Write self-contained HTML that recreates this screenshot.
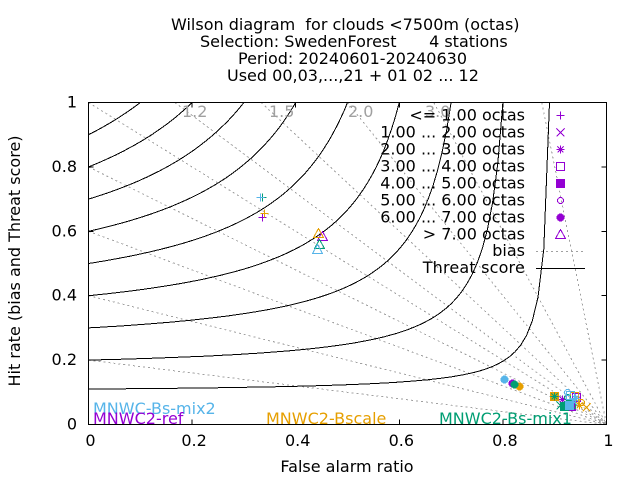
<!DOCTYPE html>
<html lang="en">
<head>
<meta charset="utf-8">
<title>Wilson diagram</title>
<style>
html,body{margin:0;padding:0;background:#fff;}
svg{display:block;}
text{font-family:"DejaVu Sans","Liberation Sans",sans-serif;font-size:16px;fill:#000;white-space:pre;}
</style>
</head>
<body>
<svg id="chart" xmlns="http://www.w3.org/2000/svg" width="640" height="480" viewBox="0 0 640 480" xml:space="preserve">
<rect x="0" y="0" width="640" height="480" fill="#fff"/>
<g id="grid"></g>
<g id="axes"></g>
<g id="points"></g>
<g>
<text x="171" y="30">Wilson diagram  for clouds &lt;7500m (octas)</text>
<text x="200" y="47">Selection: SwedenForest      <tspan dx="2">4 stations</tspan></text>
<text x="238" y="64">Period: 20240601-20240630</text>
<text x="227" y="81">Used 00,03,...,21 + 01 02 ... 12</text>
</g>
<text x="347" y="472" text-anchor="middle">False alarm ratio</text>
<text transform="translate(20,261) rotate(-90)" text-anchor="middle">Hit rate (bias and Threat score)</text>
<g style="fill:#a0a0a0">
<text x="182" y="117" style="fill:#a0a0a0">1.2</text>
<text x="269" y="117" style="fill:#a0a0a0">1.5</text>
<text x="348" y="117" style="fill:#a0a0a0">2.0</text>
<text x="425" y="117" style="fill:#a0a0a0">3.0</text>
</g>
<g>
<text x="93" y="414" style="fill:#56b4e9">MNWC-Bs-mix2</text>
<text x="93" y="424" style="fill:#9400d3">MNWC2-ref</text>
<text x="266" y="424" style="fill:#e69f00">MNWC2-Bscale</text>
<text x="439" y="424" style="fill:#009e73">MNWC2-Bs-mix1</text>
</g>
<g id="legend"></g>
</svg>
<script>
const categories = ["<= 1.00 octas","1.00 ... 2.00 octas","2.00 ... 3.00 octas","3.00 ... 4.00 octas","4.00 ... 5.00 octas","5.00 ... 6.00 octas","6.00 ... 7.00 octas","> 7.00 octas"];
const tickValues = [0,0.2,0.4,0.6,0.8,1];
const tickLabels = ["0","0.2","0.4","0.6","0.8","1"];
const biasValues = [0.2,0.4,0.6,0.8,1,1.2,1.5,2,3,8];
const threatValues = [0.11,0.2,0.3,0.4,0.5,0.6,0.7,0.8,0.9];
const refFar = [0.335,0.921,0.914,0.942,0.932,0.944,0.817,0.451];
const refHit = [0.644,0.068,0.078,0.084,0.056,0.093,0.129,0.584];
const bscaleFar = [0.339,0.960,0.946,0.938,0.898,0.950,0.831,0.443];
const bscaleHit = [0.656,0.053,0.062,0.087,0.090,0.071,0.120,0.594];
const mix1Far = [0.334,0.911,0.898,0.932,0.917,0.923,0.821,0.445];
const mix1Hit = [0.708,0.062,0.090,0.065,0.059,0.084,0.126,0.561];
const mix2Far = [0.331,0.936,0.940,0.930,0.927,0.923,0.802,0.441];
const mix2Hit = [0.706,0.074,0.081,0.093,0.062,0.102,0.142,0.546];

const NS = "http://www.w3.org/2000/svg";
const L = 88.5, R = 606.5, T = 102.5, B = 424.5;
const sx = v => L + v * (R - L);
const sy = v => B - v * (B - T);
const gridG = document.getElementById("grid");
const axesG = document.getElementById("axes");
const pointsG = document.getElementById("points");
const legendG = document.getElementById("legend");

function mk(tag, attrs, parent) {
  const el = document.createElementNS(NS, tag);
  for (const k in attrs) el.setAttribute(k, attrs[k]);
  parent.appendChild(el);
  return el;
}

// bias isolines: H = bias * (1 - F)
biasValues.forEach(b => {
  const f0 = b > 1 ? 1 - 1 / b : 0;
  const h0 = b > 1 ? 1 : b;
  const el = mk("line", {x1: sx(f0), y1: sy(h0), x2: sx(1), y2: sy(0), stroke: "#a0a0a0", "stroke-width": 1, "stroke-dasharray": "2 3", "shape-rendering": "crispEdges"}, gridG);
  
  
});

// threat score isolines: 1/TS = 1/H + 1/(1-F) - 1
threatValues.forEach(ts => {
  const pts = [];
  const fMax = 1 - ts;
  for (let i = 0; i <= 80; i++) {
    const f = fMax * i / 80;
    const inv = 1 / ts + 1 - 1 / (1 - f);
    const h = i === 80 ? 1 : Math.min(1, 1 / inv);
    pts.push(sx(f).toFixed(1) + "," + sy(h).toFixed(1));
  }
  const el = mk("polyline", {points: pts.join(" "), fill: "none", stroke: "#000", "stroke-width": 1, "shape-rendering": "crispEdges"}, gridG);
  
  
});

// axes
const frame = mk("rect", {x: L, y: T, width: R - L, height: B - T, fill: "none", stroke: "#000", "stroke-width": 1, "shape-rendering": "crispEdges"}, axesG);


tickValues.forEach((v, i) => {
  const t1 = mk("path", {d: `M${sx(v)} ${B}v-5M${sx(v)} ${T}v5M${L} ${sy(v)}h5M${R} ${sy(v)}h-5`, stroke: "#000", "stroke-width": 1, "shape-rendering": "crispEdges", fill: "none"}, axesG);
  
  
  const xl = mk("text", {x: sx(v) + 2, y: 446, "text-anchor": "middle"}, axesG);
  xl.textContent = tickLabels[i];
  
  
  const yl = mk("text", {x: 77, y: sy(v) + 5, "text-anchor": "end"}, axesG);
  yl.textContent = tickLabels[i];
  
  
});

function marker(kind, x, y, color, parent) {
  const s = {fill: "none", stroke: color, "stroke-width": 1, "shape-rendering": "crispEdges"};
  const f = {fill: color, stroke: color, "stroke-width": 1, "shape-rendering": "crispEdges"};
  const a = 4;
  if (kind === 0) return mk("path", Object.assign({d: `M${x-a} ${y}h${2*a}M${x} ${y-a}v${2*a}`}, s), parent);
  if (kind === 1) return mk("path", Object.assign({d: `M${x-a} ${y-a}l${2*a} ${2*a}M${x-a} ${y+a}l${2*a} ${-2*a}`}, s), parent);
  if (kind === 2) return mk("path", Object.assign({d: `M${x-a} ${y}h${2*a}M${x} ${y-a}v${2*a}M${x-a+1} ${y-a+1}l${2*a-2} ${2*a-2}M${x-a+1} ${y+a-1}l${2*a-2} ${-2*a+2}`}, s), parent);
  if (kind === 3) return mk("rect", Object.assign({x: x-a, y: y-a, width: 2*a, height: 2*a}, s), parent);
  if (kind === 4) return mk("rect", Object.assign({x: x-a, y: y-a, width: 2*a, height: 2*a}, f), parent);
  if (kind === 5) return mk("circle", Object.assign({cx: x, cy: y, r: 3}, s), parent);
  if (kind === 6) return mk("circle", Object.assign({cx: x, cy: y, r: 3.5}, f), parent);
  return mk("path", Object.assign({d: `M${x} ${y-a-1}L${x+a+1} ${y+a}H${x-a-1}Z`}, s), parent);
}

// data points
const seriesColors = ["#9400d3", "#e69f00", "#009e73", "#56b4e9"];
const seriesFar = [refFar, bscaleFar, mix1Far, mix2Far];
const seriesHit = [refHit, bscaleHit, mix1Hit, mix2Hit];
seriesFar.forEach((farArr, s) => {
  farArr.forEach((far, c) => {
    const m = marker(c, Math.round(sx(far)) + 0.5, Math.round(sy(seriesHit[s][c])) + 0.5, seriesColors[s], pointsG);
    
    
  });
});

// legend
categories.forEach((label, i) => {
  const y = 115.5 + 17 * i;
  const t = mk("text", {x: 525, y: y + 5, "text-anchor": "end"}, legendG);
  t.textContent = label;
  
  
  const m = marker(i, 560.5, y, "#9400d3", legendG);
  
  
});
const biasText = mk("text", {x: 525, y: 256, "text-anchor": "end"}, legendG);
biasText.textContent = "bias";


const biasKey = mk("line", {x1: 536, y1: 251.5, x2: 583, y2: 251.5, stroke: "#a0a0a0", "stroke-width": 1, "stroke-dasharray": "2 3", "shape-rendering": "crispEdges"}, legendG);


const threatText = mk("text", {x: 525, y: 273, "text-anchor": "end", "letter-spacing": "0.18"}, legendG);
threatText.textContent = "Threat score";


const threatKey = mk("line", {x1: 536, y1: 268.5, x2: 585, y2: 268.5, stroke: "#000", "stroke-width": 1, "shape-rendering": "crispEdges"}, legendG);


</script>
</body>
</html>
